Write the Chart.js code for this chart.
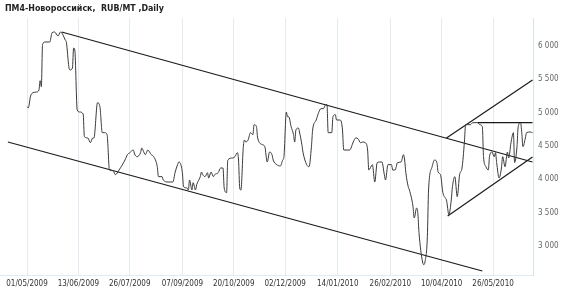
<!DOCTYPE html>
<html>
<head>
<meta charset="utf-8">
<script src="https://cdn.jsdelivr.net/npm/chart.js@4.4.1/dist/chart.umd.min.js"></script>
<style>
    html, body { margin: 0; padding: 0; background: #fff; }
    #wrap { width: 570px; height: 297px; position: relative; }
</style>
</head>
<body>
<div id="wrap"><canvas id="priceChart"></canvas></div>
<script>
// Days counted from 01/05/2009, prices in RUB/MT
const days = [0, 1, 3, 5, 8, 10, 11, 12, 13, 15, 19, 21, 23, 26, 28, 29, 32, 33, 35, 36, 38, 39, 40, 42, 44, 47, 48, 51, 53, 55, 56, 59, 61, 63, 65, 67, 69, 72, 74, 77, 82, 84, 86, 89, 90, 92, 95, 96, 97, 99, 100, 101, 104, 106, 109, 110, 113, 114, 118, 122, 124, 126, 127, 128, 130, 131, 134, 135, 136, 138, 139, 141, 142, 145, 146, 147, 149, 151, 152, 154, 156, 157, 160, 162, 164, 165, 167, 168, 172, 174, 176, 177, 178, 179, 181, 182, 183, 185, 187, 189, 190, 192, 193, 197, 199, 201, 203, 205, 206, 209, 212, 214, 215, 217, 218, 219, 221, 223, 224, 225, 227, 228, 230, 231, 234, 236, 238, 239, 242, 244, 246, 248, 250, 251, 252, 255, 256, 258, 259, 262, 264, 265, 270, 273, 275, 277, 279, 281, 283, 285, 286, 289, 291, 293, 295, 297, 299, 300, 302, 305, 306, 308, 310, 313, 315, 316, 317, 319, 320, 323, 324, 326, 327, 328, 331, 332, 333, 335, 336, 339, 341, 343, 344, 346, 348, 350, 351, 353, 355, 356, 358, 360, 362, 364, 366, 367, 371, 373, 377, 379, 381, 382, 384, 386, 387, 389, 391, 392, 393, 395, 397, 398, 400, 402, 403, 405, 407, 408, 410, 411, 413, 414, 415, 417, 418, 421, 423];
const prices = [5090, 5070, 5250, 5300, 5310, 5340, 5480, 5390, 6020, 6060, 6060, 6200, 6210, 6150, 6210, 6200, 6090, 6050, 5690, 5640, 5670, 5970, 5940, 5040, 5010, 4980, 4640, 4620, 4550, 4620, 4620, 5150, 5090, 4700, 4700, 4670, 4140, 4130, 4070, 4140, 4290, 4370, 4400, 4440, 4380, 4340, 4400, 4470, 4440, 4370, 4400, 4440, 4370, 4340, 4190, 4040, 4040, 3990, 3960, 3960, 4110, 4220, 4260, 4250, 4100, 3890, 3870, 3840, 3990, 3840, 3950, 3840, 3920, 4040, 4110, 4070, 4040, 4100, 4020, 4110, 4040, 4070, 4100, 4170, 4170, 3870, 3800, 4290, 4320, 4340, 4400, 4290, 3870, 3840, 4490, 4590, 4560, 4590, 4700, 4670, 4820, 4790, 4620, 4520, 4490, 4260, 4410, 4370, 4290, 4220, 4200, 4290, 4340, 5010, 4940, 4940, 4790, 4670, 4560, 4740, 4770, 4710, 4520, 4400, 4220, 4190, 4490, 4740, 4890, 5000, 5060, 5060, 5120, 5120, 4700, 4700, 4940, 4970, 4890, 4890, 4740, 4440, 4440, 4560, 4620, 4610, 4550, 4560, 4550, 4440, 4140, 4220, 3960, 4250, 4260, 4260, 4070, 3990, 4220, 4220, 4140, 4140, 4250, 4260, 4370, 4290, 4100, 3890, 3840, 3590, 3420, 3570, 3500, 3200, 2760, 2720, 2760, 3140, 3840, 4190, 4290, 4250, 4110, 4070, 3800, 3720, 3690, 3470, 3690, 3890, 4040, 3740, 4070, 4170, 4560, 4820, 4820, 4850, 4850, 4820, 4790, 4340, 4190, 4140, 4340, 4410, 4340, 4400, 4250, 4020, 4170, 4340, 4190, 4410, 4320, 4550, 4700, 4250, 4490, 4790, 4850, 4700, 4490, 4620, 4700, 4710, 4700];

// Drawn trend lines: [startDay, startPrice, endDay, endPrice]
const channelTop = [29, 6210, 423, 4260];
const channelBottom = [-16, 4560, 381, 2625];
const riseTop = [351, 4620, 423, 5490];
const riseBottom = [352, 3450, 423, 4335];
const resistance = [377, 4850, 423, 4850];

const tickPos = [0, 43, 86, 130, 173, 216, 260, 304, 347, 390];
const tickLabels = ['01/05/2009', '13/06/2009', '26/07/2009', '07/09/2009', '20/10/2009',
    '02/12/2009', '14/01/2010', '26/02/2010', '10/04/2010', '26/05/2010'];
const yTicks = [3000, 3500, 4000, 4500, 5000, 5500, 6000];

const title = 'ПМ4-Новороссийск,  RUB/MT ,Daily';
const labelFont = '"DejaVu Sans Condensed", "DejaVu Sans", sans-serif';

function trend(seg) {
    return {
        data: [{ x: seg[0], y: seg[1] }, { x: seg[2], y: seg[3] }],
        borderColor: '#1a1a1a',
        borderWidth: 1.2,
        pointRadius: 0,
        tension: 0
    };
}

const titlePlugin = {
    id: 'titleText',
    afterDraw(chart) {
        const ctx = chart.ctx;
        ctx.save();
        ctx.font = 'bold 8.8px ' + labelFont;
        ctx.fillStyle = '#222';
        ctx.textBaseline = 'middle';
        ctx.fillText(title, 5, 9);
        ctx.restore();
    }
};

new Chart(document.getElementById('priceChart'), {
    type: 'line',
    data: {
        datasets: [
            {
                data: days.map((d, i) => ({ x: d, y: prices[i] })),
                borderColor: '#3a3a3a',
                borderWidth: 1,
                pointRadius: 0,
                cubicInterpolationMode: 'monotone'
            },
            trend(channelTop),
            trend(channelBottom),
            trend(riseTop),
            trend(riseBottom),
            trend(resistance)
        ]
    },
    options: {
        responsive: true,
        maintainAspectRatio: false,
        animation: false,
        layout: { padding: { top: 18, left: 0, right: 0, bottom: 0 } },
        plugins: {
            legend: { display: false },
            tooltip: { enabled: false },
            title: { display: false }
        },
        scales: {
            x: {
                type: 'linear',
                min: -22.6,
                max: 423.4,
                afterBuildTicks: scale => { scale.ticks = tickPos.map(v => ({ value: v })); },
                afterFit: scale => { scale.height = 22; },
                ticks: {
                    autoSkip: false,
                    maxRotation: 0,
                    padding: 4,
                    color: '#333',
                    font: { family: labelFont, size: 8 },
                    callback: (v, i) => tickLabels[i]
                },
                grid: { color: '#e2ebf2', drawTicks: false },
                border: { color: '#e2ebf2' }
            },
            y: {
                position: 'right',
                min: 2565,
                max: 6420,
                afterBuildTicks: scale => { scale.ticks = yTicks.map(v => ({ value: v })); },
                afterFit: scale => { scale.width = 37; },
                ticks: {
                    padding: 5,
                    color: '#666',
                    font: { family: labelFont, size: 8 },
                    callback: v => String(v).replace(/\B(?=(\d{3})+$)/, ' ')
                },
                grid: { display: false, drawTicks: false },
                border: { color: '#d6e2ec' }
            }
        }
    },
    plugins: [titlePlugin]
});
</script>
</body>
</html>
